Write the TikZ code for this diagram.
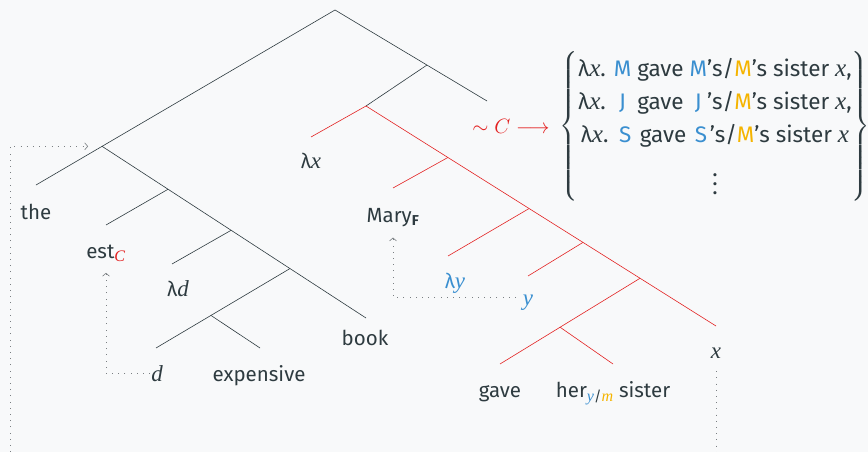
\documentclass[tikz,border=0pt]{standalone}
\usepackage{amsmath}
\usepackage{calc}
\usepackage{fontspec}
\setmainfont{Fira Sans}
\newfontfamily\vf{Liberation Serif}[Scale=1.12]
\newcommand{\vr}[1]{{\vf\itshape #1}}
\usetikzlibrary{arrows.meta,calc}
\definecolor{ink}{HTML}{2E3B40}
\definecolor{tred}{HTML}{E32222}
\definecolor{tblue}{HTML}{3A8FD0}
\definecolor{tyel}{HTML}{F5B400}
\definecolor{bg}{HTML}{F8F9FA}
\definecolor{dotc}{HTML}{7A7F82}
\newcommand{\mbx}[1]{\makebox[\widthof{M}][c]{#1}}
\newcommand{\myvdots}{\raisebox{-19pt}{\vbox{\baselineskip=9pt\lineskiplimit=-20pt\hbox{.}\hbox{.}\hbox{.}}}}
\begin{document}
\begin{tikzpicture}[x=1pt,y=-1pt,
  every node/.style={font=\fontsize{20.5}{25}\selectfont, text=ink, inner sep=1pt},
  lbl/.style={anchor=base},
  edge/.style={draw=ink, line width=0.6pt},
  redge/.style={draw=tred, line width=0.6pt},
  dotarrow/.style={draw=dotc, line width=0.8pt, dash pattern=on 0.8pt off 5.4pt, -{Straight Barb[length=3pt,width=7pt,line width=0.6pt]}},
  dotline/.style={draw=dotc, line width=0.8pt, dash pattern=on 0.8pt off 5.4pt}]
\fill[bg] (0,0) rectangle (868,452);
\useasboundingbox (0,0) rectangle (868,452);
% tree points
\coordinate (root) at (335,10);
\coordinate (theE) at (36,185);
\coordinate (n1) at ($(root)!0.779!(theE)$);
\coordinate (bookE) at (366,318);
\coordinate (n2) at ($(n1)!0.25!(bookE)$);
\coordinate (n3) at ($(n1)!0.489!(bookE)$);
\coordinate (n4) at ($(n1)!0.712!(bookE)$);
\coordinate (estE) at (106,225);
\coordinate (ldE) at (172,264);
\coordinate (dE) at (156,348);
\coordinate (n5) at ($(n4)!0.59!(dE)$);
\coordinate (expE) at (260,348);
\coordinate (CE) at (487,101);
\coordinate (r1) at ($(root)!0.605!(CE)$);
\coordinate (r2) at (366,106);
\coordinate (lxE) at (311,137);
\coordinate (xE) at (716,326);
\coordinate (r3) at ($(r2)!0.234!(xE)$);
\coordinate (r4) at ($(r2)!0.466!(xE)$);
\coordinate (r5) at ($(r2)!0.62!(xE)$);
\coordinate (r6) at ($(r2)!0.783!(xE)$);
\coordinate (maryE) at (393,188);
\coordinate (lyE) at (448,256);
\coordinate (yE) at (528,276);
\coordinate (gaveE) at (500,364);
\coordinate (r7) at ($(r6)!0.571!(gaveE)$);
\coordinate (sisE) at (613,364);
% black edges
\draw[edge] (root) -- (theE);
\draw[edge] (n1) -- (bookE);
\draw[edge] (n2) -- (estE);
\draw[edge] (n3) -- (ldE);
\draw[edge] (n4) -- (dE);
\draw[edge] (n5) -- (expE);
\draw[edge] (root) -- (CE);
\draw[edge] (r1) -- (r2);
% red edges
\draw[redge] (r2) -- (lxE);
\draw[redge] (r2) -- (xE);
\draw[redge] (r3) -- (maryE);
\draw[redge] (r4) -- (lyE);
\draw[redge] (r5) -- (yE);
\draw[redge] (r6) -- (gaveE);
\draw[redge] (r7) -- (sisE);
% labels
\node[lbl] (the) at (36,219) {the};
\node[lbl] (est) at (106,258) {est\textsubscript{\textcolor{tred}{\vr{C}}}};
\node[lbl] (ld) at (178,296) {λ\vr{d}};
\node[lbl] (d) at (157,381) {\vr{d}};
\node[lbl] (exp) at (259,381) {expensive};
\node[lbl] (book) at (365,345) {book};
\node[lbl] (lx) at (311,168) {λ\vr{x}};
\node[lbl] (mary) at (393,222) {Mary\textsubscript{\textbf{F}}};
\node[lbl, text=tblue] (ly) at (455,288) {λ\vr{y}};
\node[lbl, text=tblue] (y) at (528,305) {\vr{y}};
\node[lbl] (x) at (716,358) {\vr{x}};
\node[lbl] (gave) at (500,397) {gave};
\node[lbl] (sis) at (613,397) {her\textsubscript{\textcolor{tblue}{\vr{y}}/\textcolor{tyel}{\vr{m}}} sister};
\node[lbl, text=tred] (simC) at (511,133) {$\sim C\longrightarrow$};
\node[font=\fontsize{22.5}{25}\selectfont, inner sep=0pt] (set) at (715,126.5) {$\left\{\vrule height 77pt depth 66pt width 0pt\raisebox{2.5pt}{\renewcommand{\arraystretch}{1.32}\begin{tabular}{@{}c@{}}
λ\vr{x}. \mbx{\textcolor{tblue}{M}} gave \mbx{\textcolor{tblue}{M}}’s/\textcolor{tyel}{M}’s sister \vr{x},\\
λ\vr{x}. \mbx{\textcolor{tblue}{J}} gave \mbx{\textcolor{tblue}{J}}’s/\textcolor{tyel}{M}’s sister \vr{x},\\
λ\vr{x}. \mbx{\textcolor{tblue}{S}} gave \mbx{\textcolor{tblue}{S}}’s/\textcolor{tyel}{M}’s sister \vr{x}\\
\myvdots
\end{tabular}}\right\}$};
% dotted movement arrows
\coordinate (bl) at (10,452);
\coordinate (br) at (716,452);
\draw[dotarrow] (bl) |- ($(n1)+(-14,0)$);
\draw[dotarrow, shorten >=10pt] (d.west) -| (est.south);
\draw[dotarrow, shorten >=10pt] ($(y.west)+(-6,-5)$) -| (mary.south);
\draw[dotline, shorten <=12pt] (x.south) -- (br);
\end{tikzpicture}
\end{document}
